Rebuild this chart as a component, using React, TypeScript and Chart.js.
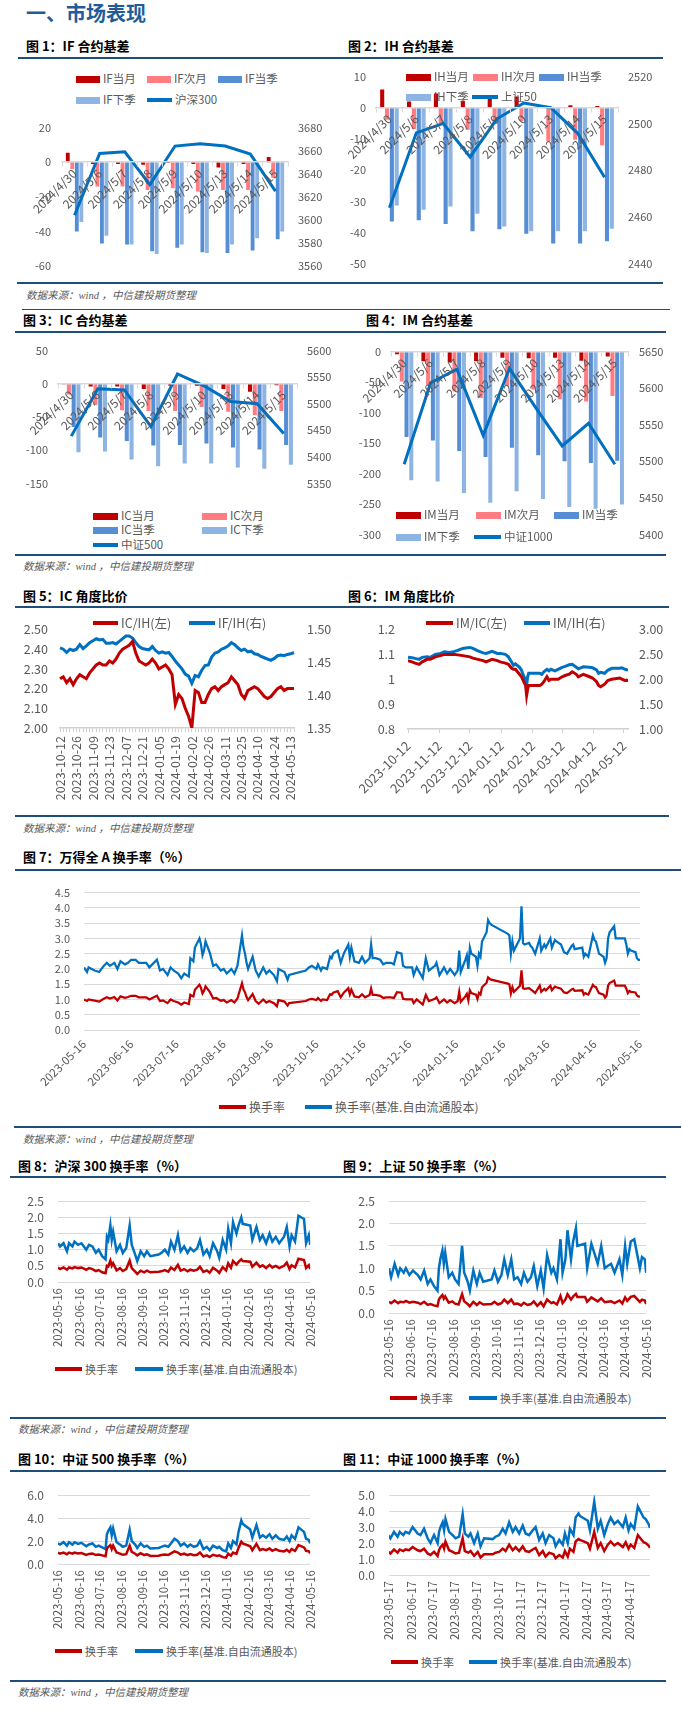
import React, { useEffect, useRef } from "react";
import { Chart, registerables } from "chart.js";
Chart.register(...registerables);

const FONT = '"Noto Sans CJK SC", "Noto Sans", sans-serif';
const GRAY = "#595959";
const NAVY = "#1F4E79";
const RED = "#C00000";
const PINK = "#FF7C80";
const BLUE_Q = "#558ED5";
const BLUE_NQ = "#8DB4E2";
const LINE_BLUE = "#0070C0";
Chart.defaults.font.family = FONT;
Chart.defaults.color = GRAY;

// ---------- Figures 1-4: basis (contract - index) ----------
const basisDates = ["2024/4/30", "2024/5/6", "2024/5/7", "2024/5/8", "2024/5/9", "2024/5/10", "2024/5/13", "2024/5/14", "2024/5/15"];

const ifMonth = [5.5, -1, -1, -1.5, -0.5, -1, -3, -1, 3];
const ifNext = [-4, -14, -14, -16, -15, -17, -16, -16, -9];
const ifQuarter = [-40, -47, -47.5, -51.5, -49.5, -52, -52.5, -51, -44.5];
const ifNextQuarter = [-34.5, -42.5, -47.5, -53, -47.5, -52.5, -47.5, -44, -40];
const hs300 = [3604, 3657.5, 3659, 3630.5, 3664, 3666, 3664, 3657, 3625];

const ihMonth = [5.9, 2, 4.6, 2.3, 4, 3.6, 0.3, 0.8, 0.6];
const ihNext = [-3.8, -6.8, -5, -7, -5, -4.3, -10.7, -10.2, -12];
const ihQuarter = [-36.4, -36, -37.2, -39.5, -38.9, -40.3, -43.4, -43.4, -42.7];
const ihNextQuarter = [-31.3, -32.6, -31.6, -33.9, -38, -39.5, -39.5, -39.5, -38.7];
const sz50 = [2464, 2496, 2500, 2485.7, 2502, 2508.7, 2506.7, 2495.8, 2477];

const icMonth = [-0.5, -4, -4, -8, -3, -3, -8, -12, -2];
const icNext = [-16, -32, -40, -41, -41, -35, -42, -47, -41];
const icQuarter = [-65, -81, -86, -93, -92, -90, -96, -99, -92];
const icNextQuarter = [-103, -102, -114, -124, -120, -120, -126, -128, -122];
const zz500 = [5439, 5528, 5526, 5457, 5556, 5533.5, 5504, 5500, 5444];

const imMonth = [-4.5, -16, -18, -16, -10, -11, -10, -15, -8];
const imNext = [-49, -55, -65, -76, -56, -62, -78, -82, -73];
const imQuarter = [-140, -146, -163, -173, -158, -170, -180, -183, -179];
const imNextQuarter = [-211, -213, -232, -248, -229, -242, -255, -258, -251];
const zz1000 = [5496, 5607, 5626, 5535.5, 5627, 5573, 5521, 5552, 5496];

// ---------- Figure 5: IC/IH & IF/IH (every 2nd trading day) ----------
const ratioTickLabels = ["2023-10-12", "2023-10-26", "2023-11-09", "2023-11-23", "2023-12-07", "2023-12-21", "2024-01-05", "2024-01-19", "2024-02-02", "2024-02-26", "2024-03-11", "2024-03-25", "2024-04-10", "2024-04-24", "2024-05-13"];
const icIhRatio = [
  2.25, 2.26, 2.23, 2.25, 2.22, 2.25, 2.27, 2.26, 2.25, 2.28,
  2.30, 2.32, 2.33, 2.32, 2.32, 2.34, 2.33, 2.35, 2.38, 2.40,
  2.41, 2.42, 2.44, 2.38, 2.34, 2.33, 2.32, 2.33, 2.35, 2.33,
  2.30, 2.31, 2.32, 2.30, 2.27, 2.12, 2.17, 2.15, 2.10, 2.06,
  2.00, 2.19, 2.18, 2.13, 2.13, 2.17, 2.20, 2.21, 2.19, 2.21,
  2.22, 2.23, 2.26, 2.24, 2.22, 2.17, 2.15, 2.19, 2.20, 2.21,
  2.20, 2.18, 2.16, 2.15, 2.16, 2.18, 2.20, 2.21, 2.19, 2.20,
  2.20, 2.20,
];
const ifIhRatio = [
  1.472, 1.470, 1.465, 1.470, 1.468, 1.470, 1.477, 1.471, 1.475, 1.480,
  1.483, 1.486, 1.484, 1.485, 1.479, 1.479, 1.480, 1.478, 1.482, 1.486,
  1.490, 1.490, 1.487, 1.480, 1.474, 1.471, 1.470, 1.469, 1.474, 1.468,
  1.464, 1.466, 1.464, 1.465, 1.459, 1.452, 1.446, 1.440, 1.432, 1.429,
  1.418, 1.430, 1.428, 1.438, 1.445, 1.446, 1.458, 1.464, 1.466, 1.470,
  1.472, 1.475, 1.480, 1.477, 1.472, 1.468, 1.470, 1.466, 1.467, 1.463,
  1.462, 1.459, 1.457, 1.455, 1.453, 1.456, 1.460, 1.461, 1.460, 1.462,
  1.463, 1.465,
];

// ---------- Figure 6: IM/IC & IM/IH ----------
const imRatioTicks = ["2023-10-12", "2023-11-12", "2023-12-12", "2024-01-12", "2024-02-12", "2024-03-12", "2024-04-12", "2024-05-12"];
const imRatioDates = [
  "2023-10-12", "2023-10-16", "2023-10-19", "2023-10-23", "2023-10-26", "2023-10-31",
  "2023-11-03", "2023-11-08", "2023-11-13", "2023-11-17", "2023-11-22", "2023-11-27", "2023-11-30",
  "2023-12-05", "2023-12-08", "2023-12-12", "2023-12-15", "2023-12-20", "2023-12-25", "2023-12-28",
  "2024-01-03", "2024-01-08", "2024-01-11", "2024-01-16", "2024-01-19", "2024-01-22", "2024-01-24", "2024-01-26", "2024-01-30",
  "2024-02-01", "2024-02-02", "2024-02-05", "2024-02-06", "2024-02-07", "2024-02-08", "2024-02-19", "2024-02-21", "2024-02-23", "2024-02-26", "2024-02-28",
  "2024-03-01", "2024-03-05", "2024-03-08", "2024-03-12", "2024-03-15", "2024-03-19", "2024-03-22", "2024-03-26", "2024-03-28",
  "2024-04-02", "2024-04-08", "2024-04-11", "2024-04-15", "2024-04-17", "2024-04-19", "2024-04-23", "2024-04-26", "2024-04-30",
  "2024-05-08", "2024-05-10", "2024-05-13", "2024-05-15", "2024-05-16",
];
const imIcRatio = [
  1.075, 1.07, 1.065, 1.06, 1.07, 1.08,
  1.08, 1.09, 1.095, 1.10, 1.10, 1.10, 1.098,
  1.095, 1.093, 1.09, 1.085, 1.08, 1.075, 1.07,
  1.08, 1.075, 1.07, 1.065, 1.06, 1.045, 1.04, 1.04, 1.02,
  1.01, 1.0, 0.975, 0.935, 0.96, 0.975, 0.975, 0.98, 0.99, 1.01, 0.995,
  1.0, 1.0, 1.0, 1.01, 1.015, 1.02, 1.03, 1.02, 1.01,
  1.02, 1.01, 1.005, 0.99, 0.975, 0.97, 0.98, 0.995, 1.0,
  1.005, 1.0, 0.995, 0.995, 1.0,
];
const imIhRatio = [
  2.44, 2.43, 2.42, 2.40, 2.44, 2.45,
  2.44, 2.50, 2.52, 2.55, 2.54, 2.56, 2.58,
  2.62, 2.63, 2.64, 2.62, 2.57, 2.53, 2.52,
  2.56, 2.52, 2.52, 2.50, 2.45, 2.35, 2.28, 2.31, 2.24,
  2.18, 2.12, 1.98, 1.88, 2.05, 2.12, 2.12, 2.10, 2.15, 2.20, 2.17,
  2.20, 2.17, 2.20, 2.24, 2.26, 2.29, 2.30, 2.24, 2.21,
  2.25, 2.24, 2.23, 2.19, 2.12, 2.14, 2.12, 2.18, 2.22,
  2.22, 2.23, 2.20, 2.19, 2.20,
];

// ---------- Figure 7: Wind All A turnover ----------
const turnoverTicks = ["2023-05-16", "2023-06-16", "2023-07-16", "2023-08-16", "2023-09-16", "2023-10-16", "2023-11-16", "2023-12-16", "2024-01-16", "2024-02-16", "2024-03-16", "2024-04-16", "2024-05-16"];
const windADates = [
  "2023-05-16", "2023-05-18", "2023-05-19", "2023-05-23", "2023-05-26", "2023-05-29", "2023-05-31",
  "2023-06-02", "2023-06-05", "2023-06-07", "2023-06-09", "2023-06-12", "2023-06-14", "2023-06-16", "2023-06-19", "2023-06-21", "2023-06-26", "2023-06-28", "2023-06-30",
  "2023-07-03", "2023-07-05", "2023-07-07", "2023-07-10", "2023-07-12", "2023-07-14", "2023-07-17", "2023-07-19", "2023-07-21", "2023-07-24", "2023-07-25", "2023-07-26", "2023-07-27", "2023-07-28", "2023-07-31",
  "2023-08-01", "2023-08-02", "2023-08-03", "2023-08-04", "2023-08-07", "2023-08-09", "2023-08-11", "2023-08-14", "2023-08-16", "2023-08-18", "2023-08-21", "2023-08-23", "2023-08-25", "2023-08-28", "2023-08-29", "2023-08-30", "2023-08-31",
  "2023-09-01", "2023-09-04", "2023-09-06", "2023-09-08", "2023-09-11", "2023-09-13", "2023-09-15", "2023-09-18", "2023-09-20", "2023-09-21", "2023-09-25", "2023-09-27", "2023-09-28",
  "2023-10-09", "2023-10-11", "2023-10-13", "2023-10-16", "2023-10-17", "2023-10-19", "2023-10-20", "2023-10-23", "2023-10-25", "2023-10-26", "2023-10-27", "2023-10-30",
  "2023-11-01", "2023-11-03", "2023-11-06", "2023-11-07", "2023-11-08", "2023-11-10", "2023-11-13", "2023-11-15", "2023-11-17", "2023-11-20", "2023-11-21", "2023-11-22", "2023-11-24", "2023-11-27", "2023-11-29",
  "2023-12-01", "2023-12-04", "2023-12-06", "2023-12-08", "2023-12-11", "2023-12-12", "2023-12-14", "2023-12-18", "2023-12-19", "2023-12-21", "2023-12-25", "2023-12-27", "2023-12-29",
  "2024-01-02", "2024-01-03", "2024-01-05", "2024-01-08", "2024-01-10", "2024-01-12", "2024-01-15", "2024-01-17", "2024-01-18", "2024-01-19", "2024-01-22", "2024-01-23", "2024-01-24", "2024-01-25", "2024-01-26", "2024-01-29", "2024-01-30", "2024-01-31",
  "2024-02-01", "2024-02-02", "2024-02-05", "2024-02-06", "2024-02-07", "2024-02-08", "2024-02-19", "2024-02-20", "2024-02-21", "2024-02-22", "2024-02-23", "2024-02-26", "2024-02-27", "2024-02-28", "2024-02-29",
  "2024-03-01", "2024-03-04", "2024-03-05", "2024-03-06", "2024-03-08", "2024-03-11", "2024-03-12", "2024-03-14", "2024-03-15", "2024-03-18", "2024-03-19", "2024-03-21", "2024-03-22", "2024-03-25", "2024-03-27", "2024-03-29",
  "2024-04-01", "2024-04-02", "2024-04-03", "2024-04-08", "2024-04-09", "2024-04-10", "2024-04-11", "2024-04-12", "2024-04-15", "2024-04-16", "2024-04-17", "2024-04-18", "2024-04-19", "2024-04-22", "2024-04-23", "2024-04-24", "2024-04-25", "2024-04-26", "2024-04-29", "2024-04-30",
  "2024-05-06", "2024-05-07", "2024-05-08", "2024-05-09", "2024-05-10", "2024-05-13", "2024-05-14", "2024-05-15", "2024-05-16",
];
const windATurnover = [
  1.00, 0.95, 1.00, 0.96, 0.93, 1.02, 1.07,
  1.03, 1.08, 0.97, 1.10, 1.05, 1.08, 1.12, 1.12, 1.07, 1.07, 1.00, 1.05,
  1.12, 0.95, 0.97, 0.88, 1.00, 0.95, 0.90, 0.83, 0.90, 0.85, 1.15, 1.12, 1.10, 1.32, 1.48,
  1.38, 1.20, 1.28, 1.43, 1.23, 1.03, 1.05, 0.96, 0.98, 0.90, 0.98, 0.90, 1.03, 1.53, 1.33, 1.23, 1.08,
  0.98, 1.18, 0.95, 0.86, 1.00, 0.90, 0.95, 0.88, 0.78, 0.98, 0.93, 0.80, 0.88,
  0.95, 1.00, 1.02, 0.98, 1.05, 0.95, 1.00, 0.98, 1.17, 1.15, 1.22, 1.27,
  1.07, 1.22, 1.37, 1.17, 1.32, 1.10, 1.07, 1.17, 1.07, 1.15, 1.36, 1.15, 1.15, 1.12, 1.05,
  1.07, 1.07, 1.05, 1.24, 1.22, 1.02, 1.00, 1.00, 0.88, 1.00, 0.83, 1.15, 0.95,
  1.02, 1.07, 0.88, 1.00, 0.90, 0.98, 0.88, 0.95, 1.25, 0.92, 1.10, 1.18, 0.97, 1.30, 1.21, 1.16, 1.02, 1.21,
  1.16, 1.40, 1.55, 1.72, 1.68, 1.65, 1.52, 1.50, 1.20, 1.40, 1.25, 1.40, 1.45, 1.95, 1.37,
  1.35, 1.37, 1.33, 1.30, 1.21, 1.45, 1.25, 1.35, 1.30, 1.45, 1.30, 1.42, 1.40, 1.35, 1.23, 1.21,
  1.33, 1.35, 1.28, 1.30, 1.16, 1.21, 1.18, 1.16, 1.48, 1.42, 1.40, 1.30, 1.21, 1.16, 1.06, 1.13, 1.45, 1.54, 1.62, 1.45,
  1.45, 1.35, 1.21, 1.28, 1.25, 1.23, 1.13, 1.10, 1.08,
];
const windAFreeTurnover = [
  2.05, 1.90, 2.05, 1.95, 1.90, 2.10, 2.20,
  2.10, 2.20, 2.00, 2.25, 2.15, 2.20, 2.30, 2.30, 2.20, 2.20, 2.05, 2.15,
  2.30, 1.95, 2.00, 1.80, 2.05, 1.95, 1.85, 1.70, 1.85, 1.75, 2.35, 2.30, 2.25, 2.70, 3.00,
  2.80, 2.45, 2.60, 2.90, 2.50, 2.10, 2.15, 1.95, 2.00, 1.85, 2.00, 1.85, 2.10, 3.10, 2.70, 2.50, 2.20,
  2.00, 2.40, 1.95, 1.75, 2.05, 1.85, 1.95, 1.80, 1.60, 2.00, 1.90, 1.65, 1.80,
  1.95, 2.05, 2.10, 2.00, 2.15, 1.95, 2.05, 2.00, 2.40, 2.35, 2.50, 2.60,
  2.20, 2.50, 2.80, 2.40, 2.70, 2.25, 2.20, 2.40, 2.20, 2.35, 2.80, 2.35, 2.35, 2.30, 2.15,
  2.20, 2.20, 2.15, 2.55, 2.50, 2.10, 2.05, 2.05, 1.80, 2.05, 1.70, 2.35, 1.95,
  2.10, 2.20, 1.80, 2.05, 1.85, 2.00, 1.80, 1.95, 2.60, 1.90, 2.30, 2.45, 2.00, 2.70, 2.50, 2.40, 2.10, 2.50,
  2.40, 2.90, 3.20, 3.60, 3.50, 3.45, 3.15, 3.10, 2.50, 2.90, 2.60, 2.90, 3.00, 4.05, 2.85,
  2.80, 2.85, 2.75, 2.70, 2.50, 3.00, 2.60, 2.80, 2.70, 3.00, 2.70, 2.95, 2.90, 2.80, 2.55, 2.50,
  2.75, 2.80, 2.65, 2.70, 2.40, 2.50, 2.45, 2.40, 3.10, 2.95, 2.90, 2.70, 2.50, 2.40, 2.20, 2.35, 3.00, 3.20, 3.40, 3.00,
  3.00, 2.80, 2.50, 2.65, 2.60, 2.55, 2.35, 2.30, 2.30,
];

// ---------- Figures 8-11: index turnover (sampled trading days) ----------
const indexDates = [
  "2023-05-16", "2023-05-19", "2023-05-24", "2023-05-29",
  "2023-06-01", "2023-06-06", "2023-06-09", "2023-06-14", "2023-06-19", "2023-06-26", "2023-06-30",
  "2023-07-05", "2023-07-10", "2023-07-14", "2023-07-19", "2023-07-24", "2023-07-26", "2023-07-28", "2023-07-31",
  "2023-08-02", "2023-08-04", "2023-08-09", "2023-08-14", "2023-08-18", "2023-08-23", "2023-08-28", "2023-08-31",
  "2023-09-05", "2023-09-08", "2023-09-13", "2023-09-18", "2023-09-22", "2023-09-27",
  "2023-10-09", "2023-10-13", "2023-10-18", "2023-10-23", "2023-10-27",
  "2023-11-01", "2023-11-06", "2023-11-10", "2023-11-15", "2023-11-20", "2023-11-24", "2023-11-29",
  "2023-12-04", "2023-12-08", "2023-12-13", "2023-12-18", "2023-12-22", "2023-12-27",
  "2024-01-02", "2024-01-05", "2024-01-10", "2024-01-15", "2024-01-18", "2024-01-22", "2024-01-25", "2024-01-30",
  "2024-02-02", "2024-02-06", "2024-02-08", "2024-02-19", "2024-02-22", "2024-02-28",
  "2024-03-04", "2024-03-08", "2024-03-13", "2024-03-18", "2024-03-22", "2024-03-27",
  "2024-04-01", "2024-04-08", "2024-04-12", "2024-04-16", "2024-04-19", "2024-04-24", "2024-04-29",
  "2024-05-07", "2024-05-10", "2024-05-14", "2024-05-16",
];
const csi1000Ticks = ["2023-05-17", "2023-06-17", "2023-07-17", "2023-08-17", "2023-09-17", "2023-10-17", "2023-11-17", "2023-12-17", "2024-01-17", "2024-02-17", "2024-03-17", "2024-04-17"];

const hs300Turnover = [
  0.45, 0.4, 0.45, 0.38,
  0.45, 0.42, 0.46, 0.43, 0.45, 0.38, 0.43,
  0.4, 0.34, 0.37, 0.3, 0.27, 0.5, 0.48, 0.66,
  0.5, 0.58, 0.36, 0.43, 0.34, 0.4, 0.66, 0.43,
  0.32, 0.25, 0.35, 0.3, 0.35, 0.3,
  0.32, 0.33, 0.37, 0.32, 0.45,
  0.37, 0.53, 0.35, 0.4, 0.33, 0.38, 0.35,
  0.38, 0.47, 0.31, 0.36, 0.29, 0.44,
  0.35, 0.28, 0.46, 0.36, 0.58, 0.44, 0.65, 0.54,
  0.62, 0.7, 0.65, 0.63, 0.47, 0.6,
  0.47, 0.52, 0.43, 0.53, 0.45, 0.5,
  0.43, 0.5, 0.6, 0.4, 0.52, 0.45, 0.72,
  0.68, 0.43, 0.52, 0.4,
];
const hs300FreeTurnover = [
  1.2, 1.1, 1.2, 0.95,
  1.2, 1.1, 1.25, 1.15, 1.2, 1.0, 1.15,
  1.1, 0.9, 1.0, 0.8, 0.7, 1.4, 1.3, 1.75,
  1.3, 1.55, 0.95, 1.15, 0.9, 1.05, 1.75, 1.15,
  0.85, 0.65, 0.95, 0.8, 0.95, 0.8,
  0.85, 0.9, 1.0, 0.85, 1.25,
  1.0, 1.45, 0.95, 1.1, 0.9, 1.05, 0.95,
  1.05, 1.3, 0.85, 1.0, 0.8, 1.2,
  0.95, 0.75, 1.3, 1.0, 1.65, 1.2, 1.85, 1.5,
  1.75, 2.0, 1.8, 1.75, 1.3, 1.7,
  1.3, 1.45, 1.2, 1.5, 1.25, 1.4,
  1.2, 1.4, 1.7, 1.1, 1.45, 1.25, 2.05,
  1.95, 1.2, 1.45, 1.15,
];
const sz50Turnover = [
  0.25, 0.22, 0.28, 0.22,
  0.25, 0.24, 0.27, 0.23, 0.25, 0.23, 0.2,
  0.25, 0.18, 0.2, 0.17, 0.15, 0.3, 0.35, 0.4,
  0.32, 0.37, 0.23, 0.26, 0.21, 0.19, 0.42, 0.26,
  0.2, 0.15, 0.25, 0.18, 0.24, 0.19,
  0.2, 0.25, 0.19, 0.22, 0.3,
  0.22, 0.3, 0.2, 0.21, 0.17, 0.23, 0.18,
  0.2, 0.26, 0.16, 0.24, 0.15, 0.3,
  0.22, 0.24, 0.19, 0.38, 0.22, 0.3, 0.42, 0.3,
  0.37, 0.43, 0.36, 0.36, 0.25, 0.35,
  0.3, 0.26, 0.33, 0.24, 0.25, 0.26,
  0.22, 0.28, 0.21, 0.35, 0.27, 0.36, 0.38,
  0.25, 0.3, 0.28, 0.2,
];
const sz50FreeTurnover = [
  1.0, 0.8, 1.1, 0.85,
  1.0, 0.9, 1.0, 0.85, 0.95, 0.85, 0.75,
  0.95, 0.65, 0.75, 0.6, 0.5, 1.0, 1.2, 1.4,
  1.1, 1.35, 0.8, 0.9, 0.75, 0.65, 1.5, 0.9,
  0.7, 0.5, 0.95, 0.65, 0.9, 0.7,
  0.75, 0.95, 0.7, 0.85, 1.2,
  0.85, 1.2, 0.75, 0.8, 0.65, 0.9, 0.7,
  0.8, 1.05, 0.6, 0.95, 0.55, 1.3,
  0.9, 1.0, 0.75, 1.65, 0.9, 1.2, 1.85, 1.2,
  1.6, 1.9, 1.5, 1.55, 1.0, 1.55,
  1.3, 1.1, 1.5, 1.0, 1.05, 1.1,
  0.9, 1.2, 0.85, 1.5, 1.1, 1.6, 1.65,
  1.0, 1.25, 1.2, 0.9,
];
const zz500Turnover = [
  1.0, 0.9, 1.0, 0.85,
  1.0, 0.9, 1.0, 0.92, 0.95, 0.8, 0.88,
  0.92, 0.78, 0.82, 0.75, 0.68, 1.35, 1.5, 1.65,
  1.3, 1.6, 1.0, 0.9, 0.8, 0.85, 1.6, 1.05,
  0.9, 0.75, 0.95, 0.78, 0.85, 0.7,
  0.72, 0.78, 0.82, 0.78, 0.92,
  1.1, 1.0, 0.82, 0.9, 0.77, 0.86, 0.76,
  0.8, 1.0, 0.65, 0.75, 0.6, 0.8,
  0.7, 0.75, 0.6, 0.55, 0.9, 0.72, 1.0, 0.88,
  1.4, 1.95, 1.8, 1.55, 1.2, 1.75,
  1.2, 1.3, 1.2, 1.35, 1.15, 1.3,
  1.15, 1.1, 1.25, 1.05, 1.3, 1.15, 1.65,
  1.45, 1.15, 1.1, 0.95,
];
const zz500FreeTurnover = [
  1.8, 1.7, 1.9, 1.6,
  1.9, 1.7, 1.9, 1.75, 1.85, 1.55, 1.7,
  1.8, 1.5, 1.6, 1.45, 1.3, 2.6, 2.9, 3.2,
  2.5, 3.1, 1.9, 1.7, 1.5, 1.6, 3.0, 2.0,
  1.7, 1.4, 1.8, 1.5, 1.6, 1.35,
  1.4, 1.5, 1.6, 1.5, 1.8,
  2.2, 2.0, 1.6, 1.8, 1.5, 1.7, 1.5,
  1.6, 2.0, 1.3, 1.5, 1.2, 1.6,
  1.4, 1.5, 1.2, 1.1, 1.8, 1.4, 2.0, 1.7,
  2.8, 3.8, 3.5, 3.0, 2.3, 3.4,
  2.3, 2.5, 2.3, 2.6, 2.2, 2.5,
  2.2, 2.1, 2.4, 2.0, 2.5, 2.2, 3.2,
  2.8, 2.2, 2.1, 1.8,
];
const zz1000Turnover = [
  1.45, 1.35, 1.6, 1.4,
  1.6, 1.5, 1.6, 1.55, 1.75, 1.55, 1.5,
  1.65, 1.35, 1.25, 1.45, 1.2, 1.55, 1.75, 1.9,
  1.65, 2.1, 1.55, 1.45, 1.35, 1.4, 2.3, 1.5,
  1.4, 1.5, 1.2, 1.45, 1.1, 1.3,
  1.3, 1.4, 1.45, 1.65, 1.5,
  1.9, 1.55, 1.75, 1.5, 1.8, 1.5, 1.45,
  1.6, 1.7, 1.25, 1.5, 1.15, 1.4,
  1.3, 1.05, 1.25, 1.1, 1.5, 1.15, 1.65, 1.45,
  2.1, 2.25, 2.2, 2.0, 1.65, 2.7,
  1.7, 2.0, 1.5, 1.9, 2.1, 1.85,
  2.0, 1.75, 2.05, 1.65, 1.9, 1.7, 2.5,
  2.05, 2.0, 1.85, 1.7,
];
const zz1000FreeTurnover = [
  2.5, 2.3, 2.7, 2.4,
  2.7, 2.5, 2.7, 2.6, 3.0, 2.6, 2.5,
  2.9, 2.3, 2.0, 2.5, 2.0, 2.7, 3.0, 3.3,
  2.8, 3.5, 2.7, 2.5, 2.3, 2.4, 3.8, 2.6,
  2.4, 2.6, 2.0, 2.6, 1.8, 2.3,
  2.25, 2.4, 2.5, 2.9, 2.6,
  3.3, 2.7, 3.0, 2.6, 3.1, 2.6, 2.5,
  2.8, 3.0, 2.2, 2.6, 2.0, 2.5,
  2.3, 1.8, 2.2, 1.9, 2.6, 2.0, 2.9, 2.5,
  3.6, 3.85, 3.7, 3.4, 2.8, 4.6,
  2.9, 3.4, 2.5, 3.2, 3.6, 3.2,
  3.4, 3.0, 3.6, 2.8, 3.2, 2.9, 4.3,
  3.6, 3.5, 3.2, 2.95,
];

// ---------- helpers ----------
const dayNum = (s: string) => {
  const [y, m, d] = s.split("-").map(Number);
  return Date.UTC(y, m - 1, d) / 86400000;
};
const fmtDay = (v: number) => new Date(Math.round(v) * 86400000).toISOString().slice(0, 10);
const toXY = (dates: string[], vals: number[]) => vals.map((v, i) => ({ x: dayNum(dates[i]), y: v }));

function yAxis(o: any) {
  return {
    position: o.pos || "left",
    min: o.min,
    max: o.max,
    ticks: {
      stepSize: o.step,
      autoSkip: false,
      color: GRAY,
      font: { family: FONT, size: o.size || 11 },
      padding: o.pad,
      callback: o.fmt || ((v: any) => v),
    },
    grid: o.grid ? { color: "#D9D9D9", lineWidth: 1, drawTicks: false } : { display: false, drawTicks: false },
    border: { display: false },
    afterFit: (s: any) => {
      s.width = o.width;
    },
  };
}

function barConfig(p: any) {
  return {
    type: "bar",
    data: {
      labels: basisDates,
      datasets: [
        { type: "line", label: p.lineLabel, data: p.lineData, borderColor: LINE_BLUE, backgroundColor: LINE_BLUE, borderWidth: 3, pointRadius: 0, tension: 0, yAxisID: "y1", order: 0 },
        ...p.bars.map((b: any) => ({ type: "bar", label: b.label, data: b.data, backgroundColor: b.color, yAxisID: "y", order: 1, categoryPercentage: 0.72, barPercentage: 0.85 })),
      ],
    },
    options: {
      animation: false,
      responsive: false,
      layout: { padding: { top: p.padTop, bottom: p.padBottom, left: 0, right: 0 } },
      plugins: { legend: { display: false }, tooltip: { enabled: false } },
      scales: {
        x: {
          type: "category",
          position: { y: 0 },
          offset: true,
          z: 1,
          ticks: { z: 1, autoSkip: false, minRotation: 45, maxRotation: 45, color: GRAY, font: { family: FONT, size: 12 }, padding: 0 },
          grid: { z: 1, display: true, drawOnChartArea: false, drawTicks: true, tickLength: 4, color: "#D9D9D9", offset: true },
          border: { z: 1, display: true, color: "#D9D9D9", width: 1.5 },
        },
        y: yAxis({ pos: "left", min: p.yMin, max: p.yMax, step: p.yStep, pad: p.leftPad, width: p.leftW }),
        y1: yAxis({ pos: "right", min: p.rMin, max: p.rMax, step: p.rStep, pad: p.rightPad, width: p.rightW }),
      },
    },
  };
}

function dateAxis(o: any) {
  const tickVals = o.ticks.map(dayNum);
  return {
    type: "linear",
    min: dayNum(o.min),
    max: dayNum(o.max),
    afterBuildTicks: (s: any) => {
      s.ticks = tickVals.map((v: number) => ({ value: v }));
    },
    afterFit: (s: any) => {
      s.height = o.height;
    },
    ticks: {
      autoSkip: false,
      minRotation: o.rot,
      maxRotation: o.rot,
      color: GRAY,
      font: { family: FONT, size: o.size },
      padding: o.pad,
      callback: (v: number) => fmtDay(v),
    },
    grid: o.border
      ? { display: true, drawOnChartArea: false, drawTicks: true, tickLength: 4, color: "#D0D0D0" }
      : { display: false, drawTicks: false },
    border: { display: !!o.border, color: "#D0D0D0", width: 1.5 },
  };
}

function turnoverConfig(p: any) {
  return {
    type: "line",
    data: {
      datasets: [
        { label: "换手率", data: toXY(p.dates, p.red), borderColor: RED, backgroundColor: RED, borderWidth: p.lw, pointRadius: 0, tension: 0 },
        { label: "换手率(基准.自由流通股本)", data: toXY(p.dates, p.blue), borderColor: LINE_BLUE, backgroundColor: LINE_BLUE, borderWidth: p.lw, pointRadius: 0, tension: 0 },
      ],
    },
    options: {
      animation: false,
      responsive: false,
      layout: { padding: { top: p.padTop, right: p.padRight, left: 0, bottom: 0 } },
      plugins: { legend: { display: false }, tooltip: { enabled: false } },
      scales: {
        x: dateAxis({ min: p.xMin, max: p.xMax, ticks: p.ticks, rot: p.rot, height: p.xH, size: 11.5, pad: p.xPad }),
        y: yAxis({ min: p.yMin, max: p.yMax, step: p.yStep, pad: 14, width: p.leftW, grid: true, size: p.ySize, fmt: (v: number) => v.toFixed(1) }),
      },
    },
  };
}

function ratio5Config() {
  const cats = icIhRatio.map((_, i) => (i % 5 === 0 && ratioTickLabels[i / 5] ? ratioTickLabels[i / 5] : ""));
  return {
    type: "line",
    data: {
      labels: cats,
      datasets: [
        { label: "IC/IH(左)", data: icIhRatio, borderColor: RED, borderWidth: 3, pointRadius: 0, tension: 0, yAxisID: "y" },
        { label: "IF/IH(右)", data: ifIhRatio, borderColor: LINE_BLUE, borderWidth: 3, pointRadius: 0, tension: 0, yAxisID: "y1" },
      ],
    },
    options: {
      animation: false,
      responsive: false,
      layout: { padding: { top: 9, left: 0, right: 0, bottom: 0 } },
      plugins: { legend: { display: false }, tooltip: { enabled: false } },
      scales: {
        x: {
          type: "category",
          offset: false,
          afterFit: (s: any) => {
            s.height = 86;
          },
          ticks: { autoSkip: false, minRotation: 90, maxRotation: 90, color: GRAY, font: { family: FONT, size: 12.5 }, padding: 4 },
          grid: { display: true, drawOnChartArea: false, drawTicks: true, tickLength: 4, color: "#D0D0D0" },
          border: { display: true, color: "#D0D0D0", width: 1.5 },
        },
        y: yAxis({ pos: "left", min: 2.0, max: 2.5, step: 0.1, pad: 12, width: 45, size: 12.5, fmt: (v: number) => v.toFixed(2) }),
        y1: yAxis({ pos: "right", min: 1.35, max: 1.5, step: 0.05, pad: 13, width: 47, size: 12.5, fmt: (v: number) => v.toFixed(2) }),
      },
    },
  };
}

function ratio6Config() {
  return {
    type: "line",
    data: {
      datasets: [
        { label: "IM/IC(左)", data: toXY(imRatioDates, imIcRatio), borderColor: RED, borderWidth: 3, pointRadius: 0, tension: 0, yAxisID: "y" },
        { label: "IM/IH(右)", data: toXY(imRatioDates, imIhRatio), borderColor: LINE_BLUE, borderWidth: 3, pointRadius: 0, tension: 0, yAxisID: "y1" },
      ],
    },
    options: {
      animation: false,
      responsive: false,
      layout: { padding: { top: 9, left: 0, right: 0, bottom: 0 } },
      plugins: { legend: { display: false }, tooltip: { enabled: false } },
      scales: {
        x: dateAxis({ min: "2023-10-12", max: "2024-05-16", ticks: imRatioTicks, rot: 45, height: 85, size: 13, pad: 5, border: true }),
        y: yAxis({ pos: "left", min: 0.8, max: 1.2, step: 0.1, pad: 13, width: 67, size: 12.5, fmt: (v: number) => String(Number(v.toFixed(1))) }),
        y1: yAxis({ pos: "right", min: 1.0, max: 3.0, step: 0.5, pad: 11, width: 41, size: 12.5, fmt: (v: number) => v.toFixed(2) }),
      },
    },
  };
}

// ---------- components ----------
function ChartCanvas({ left, top, width, height, make }: any) {
  const ref = useRef<HTMLCanvasElement | null>(null);
  useEffect(() => {
    const chart = new Chart(ref.current as any, make());
    return () => chart.destroy();
  }, []);
  return <canvas ref={ref} width={width} height={height} style={{ position: "absolute", left, top, width, height }} />;
}

function Txt({ x, y, size, children, bold, italic, color, family }: any) {
  return (
    <div
      style={{
        position: "absolute",
        left: x,
        top: y - size * 0.75,
        height: size * 1.5,
        lineHeight: `${size * 1.5}px`,
        fontSize: size,
        fontWeight: bold ? 700 : 400,
        fontStyle: italic ? "italic" : "normal",
        color: color || GRAY,
        fontFamily: family || FONT,
        whiteSpace: "nowrap",
      }}
    >
      {children}
    </div>
  );
}

function Rule({ x1, x2, y, h = 2 }: any) {
  return <div style={{ position: "absolute", left: x1, top: y - h / 2, width: x2 - x1, height: h, background: NAVY }} />;
}

function LegendItem({ kind, color, x, y, w = 25, text, size = 11.5 }: any) {
  const h = kind === "box" ? 7 : 3.5;
  return (
    <>
      <div style={{ position: "absolute", left: x, top: y - h / 2, width: w, height: h, background: color }} />
      <Txt x={x + w + 3} y={y} size={size}>
        {text}
      </Txt>
    </>
  );
}

const Title = ({ x, y, children }: any) => (
  <Txt x={x} y={y} size={13} bold color="#000">
    {children}
  </Txt>
);
const Source = ({ x, y }: any) => (
  <Txt x={x} y={y} size={10.5} italic color="#595959" family={'"Liberation Serif", "Noto Sans CJK SC", serif'}>
    数据来源：wind ，中信建投期货整理
  </Txt>
);

export default function App() {
  return (
    <div style={{ position: "absolute", left: 0, top: 0, width: 682, height: 1710, background: "#fff", overflow: "hidden" }}>
      <Txt x={26} y={13} size={20} bold color="#1F5C99">
        一、市场表现
      </Txt>

      {/* Block 1 */}
      <Title x={26} y={46}>图 1：IF 合约基差</Title>
      <Title x={348} y={46}>图 2：IH 合约基差</Title>
      <Rule x1={18} x2={663} y={58} />
      <ChartCanvas
        left={18}
        top={110}
        width={323}
        height={175}
        make={() =>
          barConfig({
            bars: [
              { label: "IF当月", data: ifMonth, color: RED },
              { label: "IF次月", data: ifNext, color: PINK },
              { label: "IF当季", data: ifQuarter, color: BLUE_Q },
              { label: "IF下季", data: ifNextQuarter, color: BLUE_NQ },
            ],
            lineLabel: "沪深300",
            lineData: hs300,
            yMin: -60, yMax: 20, yStep: 20,
            rMin: 3560, rMax: 3680, rStep: 20,
            leftW: 44, rightW: 53, leftPad: 11, rightPad: 10,
            padTop: 14, padBottom: 19,
          })
        }
      />
      <LegendItem kind="box" color={RED} x={76} y={79} w={24} text="IF当月" />
      <LegendItem kind="box" color={PINK} x={147} y={79} w={24} text="IF次月" />
      <LegendItem kind="box" color={BLUE_Q} x={218} y={79} w={24} text="IF当季" />
      <LegendItem kind="box" color={BLUE_NQ} x={76} y={100} w={24} text="IF下季" />
      <LegendItem kind="line" color={LINE_BLUE} x={147} y={100} w={25} text="沪深300" />

      <ChartCanvas
        left={341}
        top={60}
        width={322}
        height={222}
        make={() =>
          barConfig({
            bars: [
              { label: "IH当月", data: ihMonth, color: RED },
              { label: "IH次月", data: ihNext, color: PINK },
              { label: "IH当季", data: ihQuarter, color: BLUE_Q },
              { label: "IH下季", data: ihNextQuarter, color: BLUE_NQ },
            ],
            lineLabel: "上证50",
            lineData: sz50,
            yMin: -50, yMax: 10, yStep: 10,
            rMin: 2440, rMax: 2520, rStep: 20,
            leftW: 35, rightW: 45, leftPad: 10, rightPad: 10,
            padTop: 8, padBottom: 18,
          })
        }
      />
      <LegendItem kind="box" color={RED} x={406} y={77} text="IH当月" />
      <LegendItem kind="box" color={PINK} x={473} y={77} text="IH次月" />
      <LegendItem kind="box" color={BLUE_Q} x={539} y={77} text="IH当季" />
      <LegendItem kind="box" color={BLUE_NQ} x={406} y={97} text="IH下季" />
      <LegendItem kind="line" color={LINE_BLUE} x={472} y={97} w={26} text="上证50" />
      <Rule x1={17} x2={663} y={283} />
      <Source x={26} y={296} />
      <Rule x1={22} x2={670} y={309.5} h={1} />

      {/* Block 2 */}
      <Title x={23} y={320}>图 3：IC 合约基差</Title>
      <Title x={366} y={320}>图 4：IM 合约基差</Title>
      <Rule x1={15} x2={666} y={332} />
      <ChartCanvas
        left={15}
        top={334}
        width={326}
        height={166}
        make={() =>
          barConfig({
            bars: [
              { label: "IC当月", data: icMonth, color: RED },
              { label: "IC次月", data: icNext, color: PINK },
              { label: "IC当季", data: icQuarter, color: BLUE_Q },
              { label: "IC下季", data: icNextQuarter, color: BLUE_NQ },
            ],
            lineLabel: "中证500",
            lineData: zz500,
            yMin: -150, yMax: 50, yStep: 50,
            rMin: 5350, rMax: 5600, rStep: 50,
            leftW: 43, rightW: 44, leftPad: 10, rightPad: 10,
            padTop: 9, padBottom: 14,
          })
        }
      />
      <LegendItem kind="box" color={RED} x={93} y={516} text="IC当月" />
      <LegendItem kind="box" color={PINK} x={202} y={516} text="IC次月" />
      <LegendItem kind="box" color={BLUE_Q} x={93} y={530} text="IC当季" />
      <LegendItem kind="box" color={BLUE_NQ} x={202} y={530} text="IC下季" />
      <LegendItem kind="line" color={LINE_BLUE} x={93} y={545} text="中证500" />

      <ChartCanvas
        left={341}
        top={334}
        width={325}
        height={218}
        make={() =>
          barConfig({
            bars: [
              { label: "IM当月", data: imMonth, color: RED },
              { label: "IM次月", data: imNext, color: PINK },
              { label: "IM当季", data: imQuarter, color: BLUE_Q },
              { label: "IM下季", data: imNextQuarter, color: BLUE_NQ },
            ],
            lineLabel: "中证1000",
            lineData: zz1000,
            yMin: -300, yMax: 0, yStep: 50,
            rMin: 5400, rMax: 5650, rStep: 50,
            leftW: 50, rightW: 38, leftPad: 10, rightPad: 11,
            padTop: 9, padBottom: 11,
          })
        }
      />
      <LegendItem kind="box" color={RED} x={396} y={515} text="IM当月" />
      <LegendItem kind="box" color={PINK} x={476} y={515} text="IM次月" />
      <LegendItem kind="box" color={BLUE_Q} x={554} y={515} text="IM当季" />
      <LegendItem kind="box" color={BLUE_NQ} x={396} y={537} text="IM下季" />
      <LegendItem kind="line" color={LINE_BLUE} x={474} y={537} w={27} text="中证1000" />
      <Rule x1={15} x2={666} y={555} />
      <Source x={23} y={567} />

      {/* Block 3 */}
      <Title x={23} y={596}>图 5：IC 角度比价</Title>
      <Title x={348} y={596}>图 6：IM 角度比价</Title>
      <Rule x1={15} x2={669} y={607} />
      <ChartCanvas left={15} top={609} width={326} height={205} make={ratio5Config} />
      <LegendItem kind="line" color={RED} x={93} y={623} w={25} size={12.5} text="IC/IH(左)" />
      <LegendItem kind="line" color={LINE_BLUE} x={189} y={623} w={26} size={12.5} text="IF/IH(右)" />
      <ChartCanvas left={341} top={609} width={328} height={205} make={ratio6Config} />
      <LegendItem kind="line" color={RED} x={426} y={623} w={27} size={12.5} text="IM/IC(左)" />
      <LegendItem kind="line" color={LINE_BLUE} x={524} y={623} w={26} size={12.5} text="IM/IH(右)" />
      <Rule x1={15} x2={669} y={816} />
      <Source x={23} y={829} />

      {/* Block 4 */}
      <Title x={23} y={857}>图 7：万得全 A 换手率（%）</Title>
      <Rule x1={15} x2={681} y={870} />
      <ChartCanvas
        left={15}
        top={872}
        width={667}
        height={220}
        make={() =>
          turnoverConfig({
            dates: windADates, red: windATurnover, blue: windAFreeTurnover, lw: 2.25,
            xMin: "2023-05-16", xMax: "2024-05-16", ticks: turnoverTicks, rot: 45, xH: 62, xPad: 7,
            yMin: 0, yMax: 4.5, yStep: 0.5, ySize: 11, leftW: 69, padTop: 13, padRight: 42,
          })
        }
      />
      <LegendItem kind="line" color={RED} x={219} y={1107} w={27} size={12} text="换手率" />
      <LegendItem kind="line" color={LINE_BLUE} x={305} y={1107} w={27} size={12} text="换手率(基准.自由流通股本)" />
      <Rule x1={14} x2={681} y={1127} />
      <Source x={23} y={1140} />

      {/* Block 5 */}
      <Title x={18} y={1166}>图 8：沪深 300 换手率（%）</Title>
      <Title x={343} y={1166}>图 9：上证 50 换手率（%）</Title>
      <Rule x1={10} x2={666} y={1177} />
      <ChartCanvas
        left={10}
        top={1180}
        width={320}
        height={175}
        make={() =>
          turnoverConfig({
            dates: indexDates, red: hs300Turnover, blue: hs300FreeTurnover, lw: 2.5,
            xMin: "2023-05-16", xMax: "2024-05-16", ticks: turnoverTicks, rot: 90, xH: 73, xPad: 6,
            yMin: 0, yMax: 2.5, yStep: 0.5, ySize: 12, leftW: 48, padTop: 13, padRight: 18,
          })
        }
      />
      <LegendItem kind="line" color={RED} x={55} y={1369} w={27} size={11} text="换手率" />
      <LegendItem kind="line" color={LINE_BLUE} x={135} y={1369} w={28} size={11} text="换手率(基准.自由流通股本)" />
      <ChartCanvas
        left={341}
        top={1180}
        width={325}
        height={205}
        make={() =>
          turnoverConfig({
            dates: indexDates, red: sz50Turnover, blue: sz50FreeTurnover, lw: 2.5,
            xMin: "2023-05-16", xMax: "2024-05-16", ticks: turnoverTicks, rot: 90, xH: 72, xPad: 6,
            yMin: 0, yMax: 2.5, yStep: 0.5, ySize: 12, leftW: 48, padTop: 13, padRight: 15,
          })
        }
      />
      <LegendItem kind="line" color={RED} x={390} y={1398} w={27} size={11} text="换手率" />
      <LegendItem kind="line" color={LINE_BLUE} x={469} y={1398} w={28} size={11} text="换手率(基准.自由流通股本)" />
      <Rule x1={10} x2={666} y={1418} />
      <Source x={18} y={1430} />

      {/* Block 6 */}
      <Title x={18} y={1459}>图 10：中证 500 换手率（%）</Title>
      <Title x={343} y={1459}>图 11：中证 1000 换手率（%）</Title>
      <Rule x1={10} x2={666} y={1471} />
      <ChartCanvas
        left={10}
        top={1474}
        width={320}
        height={160}
        make={() =>
          turnoverConfig({
            dates: indexDates, red: zz500Turnover, blue: zz500FreeTurnover, lw: 2.5,
            xMin: "2023-05-16", xMax: "2024-05-16", ticks: turnoverTicks, rot: 90, xH: 70, xPad: 6,
            yMin: 0, yMax: 6, yStep: 2, ySize: 12, leftW: 48, padTop: 13, padRight: 18,
          })
        }
      />
      <LegendItem kind="line" color={RED} x={55} y={1651} w={27} size={11} text="换手率" />
      <LegendItem kind="line" color={LINE_BLUE} x={135} y={1651} w={28} size={11} text="换手率(基准.自由流通股本)" />
      <ChartCanvas
        left={341}
        top={1474}
        width={325}
        height={170}
        make={() =>
          turnoverConfig({
            dates: indexDates, red: zz1000Turnover, blue: zz1000FreeTurnover, lw: 2.5,
            xMin: "2023-05-17", xMax: "2024-05-16", ticks: csi1000Ticks, rot: 90, xH: 69, xPad: 6,
            yMin: 0, yMax: 5, yStep: 1, ySize: 12, leftW: 48, padTop: 13, padRight: 16,
          })
        }
      />
      <LegendItem kind="line" color={RED} x={391} y={1662} w={27} size={11} text="换手率" />
      <LegendItem kind="line" color={LINE_BLUE} x={469} y={1662} w={28} size={11} text="换手率(基准.自由流通股本)" />
      <Rule x1={10} x2={666} y={1681} />
      <Source x={18} y={1693} />
    </div>
  );
}
